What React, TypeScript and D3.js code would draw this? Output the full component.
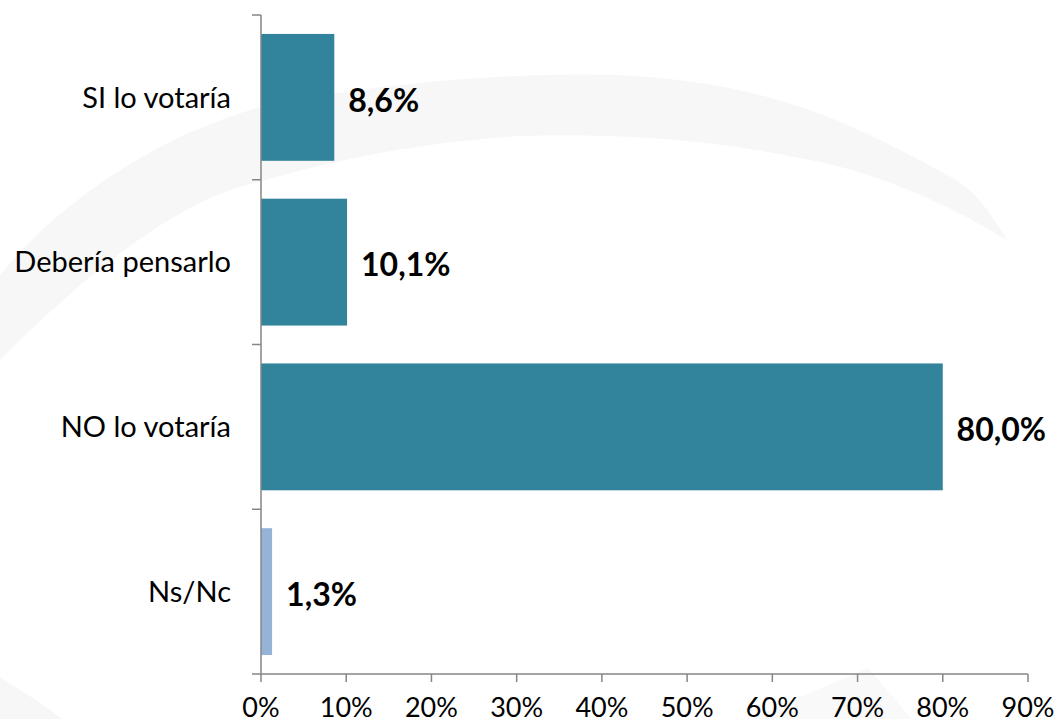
import React, { useEffect, useRef } from "react";
import * as d3 from "d3";

const categories = ["SI lo votaría", "Debería pensarlo", "NO lo votaría", "Ns/Nc"];
const values = [8.6, 10.1, 80.0, 1.3];
const barColors = ["#31849B", "#31849B", "#31849B", "#95B3D7"];
const valueLabels = ["8,6%", "10,1%", "80,0%", "1,3%"];
const xTicks = [0, 10, 20, 30, 40, 50, 60, 70, 80, 90];

const W = 1054;
const H = 719;
const M = { left: 261, right: 1028, top: 15, bottom: 674 };

export default function App() {
  const ref = useRef<SVGSVGElement>(null);

  useEffect(() => {
    const svg = d3.select(ref.current);
    svg.selectAll("*").remove();

    // faint watermark swoosh
    const bg = svg.append("g");
    bg.append("path")
      .attr(
        "d",
        "M0,275 C60,200 160,135 260,107 C380,82 520,72 620,75 C720,80 800,100 880,140 C930,165 960,180 975,195 C990,212 1000,228 1007,240 C960,212 900,180 820,162 C720,140 620,133 520,136 C420,142 330,160 230,190 C150,220 70,290 0,360 Z"
      )
      .attr("fill", "#f7f7f7");
    bg.append("path")
      .attr("d", "M868,668 L912,719 L750,719 Z")
      .attr("fill", "#f9f9f9");
    bg.append("path")
      .attr("d", "M0,677 C20,690 45,705 62,719 L0,719 Z")
      .attr("fill", "#f7f7f7");

    const x = d3.scaleLinear().domain([0, 90]).range([M.left, M.right]);
    const y = d3
      .scaleBand<string>()
      .domain(categories)
      .range([M.top, M.bottom])
      .paddingInner(0.23)
      .paddingOuter(0.115);

    const axisColor = "#868686";
    const font = "Lato, 'Open Sans', sans-serif";

    // bars
    svg
      .append("g")
      .selectAll("rect")
      .data(categories)
      .join("rect")
      .attr("x", x(0))
      .attr("y", (d) => y(d)!)
      .attr("width", (_, i) => x(values[i]) - x(0))
      .attr("height", y.bandwidth())
      .attr("fill", (_, i) => barColors[i]);

    // y axis
    const ya = svg.append("g");
    ya.append("line")
      .attr("x1", M.left)
      .attr("x2", M.left)
      .attr("y1", M.top)
      .attr("y2", M.bottom)
      .attr("stroke", axisColor)
      .attr("stroke-width", 1.5);
    const step = y.step();
    const yTickPos = d3.range(categories.length + 1).map((i) => M.top + i * step);
    ya.selectAll("line.t")
      .data(yTickPos)
      .join("line")
      .attr("class", "t")
      .attr("x1", M.left - 9)
      .attr("x2", M.left)
      .attr("y1", (d) => d)
      .attr("y2", (d) => d)
      .attr("stroke", axisColor)
      .attr("stroke-width", 1.5);
    ya.selectAll("text")
      .data(categories)
      .join("text")
      .attr("x", 231)
      .attr("y", (d) => y(d)! + y.bandwidth() / 2)
      .attr("dy", "0.35em")
      .attr("text-anchor", "end")
      .attr("font-family", font)
      .attr("font-size", 29)
      .attr("fill", "#000")
      .text((d) => d);

    // x axis
    const xa = svg.append("g");
    xa.append("line")
      .attr("x1", M.left)
      .attr("x2", M.right)
      .attr("y1", M.bottom)
      .attr("y2", M.bottom)
      .attr("stroke", axisColor)
      .attr("stroke-width", 1.5);
    xa.selectAll("line.t")
      .data(xTicks)
      .join("line")
      .attr("class", "t")
      .attr("x1", (d) => x(d))
      .attr("x2", (d) => x(d))
      .attr("y1", M.bottom)
      .attr("y2", M.bottom + 8)
      .attr("stroke", axisColor)
      .attr("stroke-width", 1.5);
    xa.selectAll("text")
      .data(xTicks)
      .join("text")
      .attr("x", (d) => x(d))
      .attr("y", 717)
      .attr("text-anchor", "middle")
      .attr("font-family", font)
      .attr("font-size", 27)
      .attr("fill", "#000")
      .text((d) => `${d}%`);

    // value labels
    const vl = svg.append("g");
    vl.selectAll("text")
      .data(categories)
      .join("text")
      .attr("x", (_, i) => x(values[i]) + 14)
      .attr("y", (d) => y(d)! + y.bandwidth() / 2 + 3)
      .attr("dy", "0.35em")
      .attr("font-family", font)
      .attr("font-size", 32)
      .attr("font-weight", "bold")
      .attr("fill", "#000")
      .text((_, i) => valueLabels[i])
      .each(function (_, i) {
        const t = this as SVGTextElement;
        const w = t.getComputedTextLength();
        const xs = x(values[i]) + 14;
        if (xs + w > W - 8) {
          d3.select(t).attr("x", W - 8 - w);
        }
      });
  }, []);

  return (
    <svg
      ref={ref}
      width={W}
      height={H}
      style={{ position: "absolute", left: 0, top: 0, background: "#fff", display: "block" }}
    />
  );
}
